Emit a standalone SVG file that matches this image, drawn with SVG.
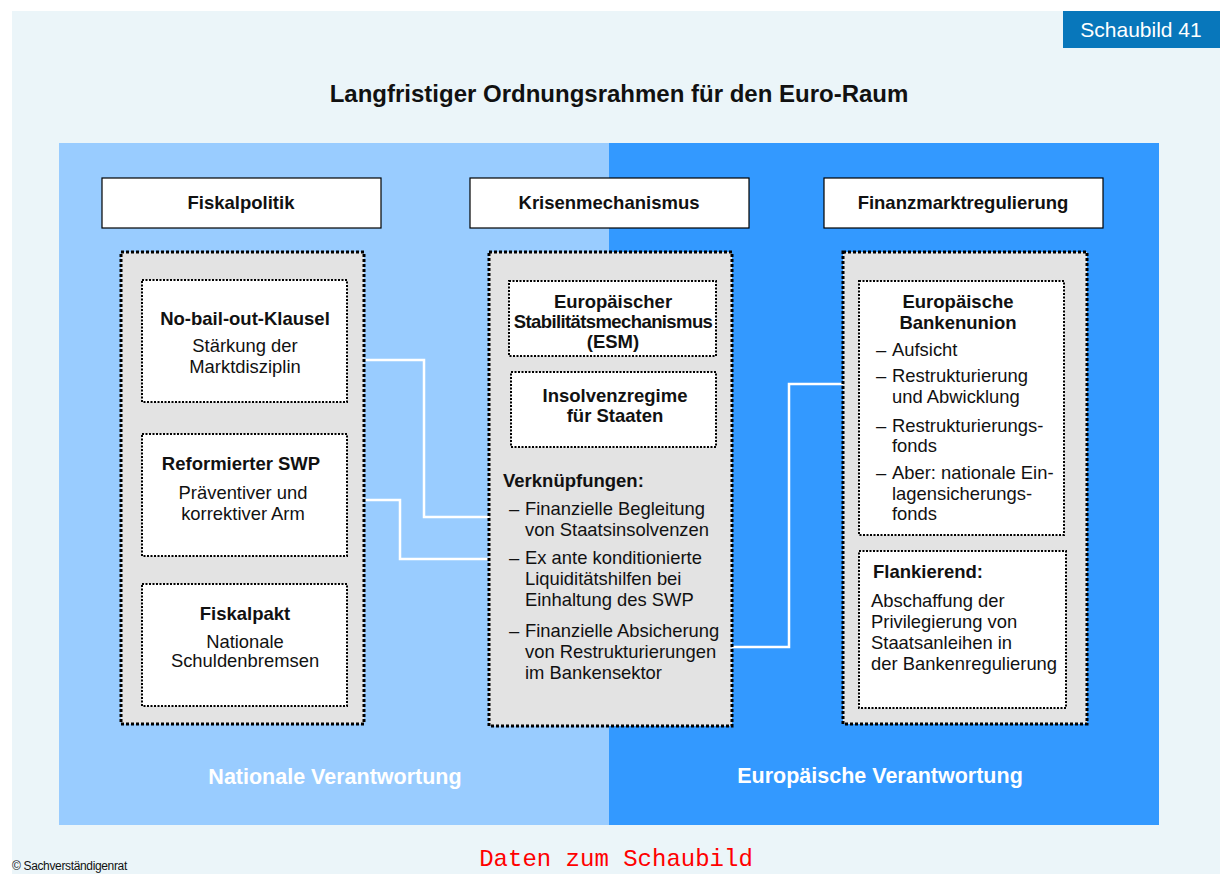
<svg xmlns="http://www.w3.org/2000/svg" width="1220" height="874" viewBox="0 0 1220 874">
<style>
text{font-family:"Liberation Sans",Arial,sans-serif;fill:#111}
.b{font-weight:bold}
.h{font-size:18.5px;font-weight:bold;text-anchor:middle}
.hb{font-size:18.5px;font-weight:bold}
.t{font-size:18.4px}
.c{text-anchor:middle}
.hdr{fill:#fff;stroke:#000;stroke-width:1.2}
.cont{fill:#e3e3e3;stroke:#000;stroke-width:3;stroke-dasharray:3 2}
.inner{fill:#fff;stroke:#000;stroke-width:2;stroke-dasharray:2 1.5}
.con{fill:none;stroke:#fff;stroke-width:2.5}
</style>
<rect x="0" y="0" width="1220" height="874" fill="#fff"/>
<rect x="12" y="11" width="1208" height="863" fill="#ebf5f9"/>
<g id="badge">
<rect x="1063" y="11" width="157" height="37" fill="#0877bb"/>
<text x="1141" y="37" font-size="21" text-anchor="middle" style="fill:#fff">Schaubild 41</text>
</g>
<text x="619" y="102" font-size="24" class="b c">Langfristiger Ordnungsrahmen für den Euro-Raum</text>
<rect x="59" y="143" width="550" height="682" fill="#99ccff"/>
<rect x="609" y="143" width="550" height="682" fill="#3399ff"/>
<text x="335" y="784" font-size="21.5" class="b c" style="fill:#fff">Nationale Verantwortung</text>
<text x="880" y="783" font-size="21.5" class="b c" style="fill:#fff">Europäische Verantwortung</text>

<g id="connectors">
<polyline class="con" points="364,360 424,360 424,517 490,517"/>
<polyline class="con" points="364,500 400,500 400,559 490,559"/>
<polyline class="con" points="732,647 789,647 789,384 843,384"/>
</g>

<g id="fiskalpolitik">
<rect class="hdr" x="102" y="178" width="279" height="50"/>
<text class="h" x="241" y="209">Fiskalpolitik</text>
</g>
<g id="krisenmechanismus">
<rect class="hdr" x="470" y="178" width="279" height="50"/>
<text class="h" x="609" y="209">Krisenmechanismus</text>
</g>
<g id="finanzmarktregulierung">
<rect class="hdr" x="824" y="178" width="279" height="50"/>
<text class="h" x="963" y="209">Finanzmarktregulierung</text>
</g>

<g id="left-container">
<rect class="cont" x="121" y="252" width="243" height="472"/>
</g>
<g id="no-bail-out">
<rect class="inner" x="142" y="280" width="205" height="122"/>
<text class="h" x="245" y="325">No-bail-out-Klausel</text>
<text class="t c" x="245" y="352">Stärkung der</text>
<text class="t c" x="245" y="373">Marktdisziplin</text>
</g>
<g id="reformierter-swp">
<rect class="inner" x="142" y="434" width="205" height="122"/>
<text class="h" x="241" y="470">Reformierter SWP</text>
<text class="t c" x="243" y="499">Präventiver und</text>
<text class="t c" x="243" y="520">korrektiver Arm</text>
</g>
<g id="fiskalpakt">
<rect class="inner" x="142" y="584" width="205" height="122"/>
<text class="h" x="245" y="620">Fiskalpakt</text>
<text class="t c" x="245" y="648">Nationale</text>
<text class="t c" x="245" y="667">Schuldenbremsen</text>
</g>

<g id="middle-container">
<rect class="cont" x="489" y="252" width="243" height="474"/>
<text class="hb" x="503" y="487">Verknüpfungen:</text>
<text class="t" x="509" y="515">–</text><text class="t" x="525" y="515">Finanzielle Begleitung</text>
<text class="t" x="525" y="536">von Staatsinsolvenzen</text>
<text class="t" x="509" y="564">–</text><text class="t" x="525" y="564">Ex ante konditionierte</text>
<text class="t" x="525" y="585">Liquiditätshilfen bei</text>
<text class="t" x="525" y="606">Einhaltung des SWP</text>
<text class="t" x="509" y="637">–</text><text class="t" x="525" y="637">Finanzielle Absicherung</text>
<text class="t" x="525" y="658">von Restrukturierungen</text>
<text class="t" x="525" y="679">im Bankensektor</text>
</g>
<g id="esm">
<rect class="inner" x="509" y="281" width="207" height="75"/>
<text class="h" x="613" y="308">Europäischer</text>
<text class="h" x="613" y="328" letter-spacing="-0.6">Stabilitätsmechanismus</text>
<text class="h" x="613" y="348">(ESM)</text>
</g>
<g id="insolvenzregime">
<rect class="inner" x="511" y="372" width="205" height="75"/>
<text class="h" x="615" y="402">Insolvenzregime</text>
<text class="h" x="615" y="422">für Staaten</text>
</g>

<g id="right-container">
<rect class="cont" x="843" y="252" width="244" height="472"/>
</g>
<g id="bankenunion">
<rect class="inner" x="859" y="281" width="205" height="254"/>
<text class="h" x="958" y="308">Europäische</text>
<text class="h" x="958" y="329">Bankenunion</text>
<text class="t" x="876" y="356">–</text><text class="t" x="892" y="356">Aufsicht</text>
<text class="t" x="876" y="382">–</text><text class="t" x="892" y="382">Restrukturierung</text>
<text class="t" x="892" y="403">und Abwicklung</text>
<text class="t" x="876" y="432">–</text><text class="t" x="892" y="432">Restrukturierungs-</text>
<text class="t" x="892" y="452">fonds</text>
<text class="t" x="876" y="479">–</text><text class="t" x="892" y="479">Aber: nationale Ein-</text>
<text class="t" x="892" y="500">lagensicherungs-</text>
<text class="t" x="892" y="520">fonds</text>
</g>
<g id="flankierend">
<rect class="inner" x="859" y="551" width="207" height="157"/>
<text class="hb" x="873" y="578">Flankierend:</text>
<text class="t" x="871" y="607">Abschaffung der</text>
<text class="t" x="871" y="628">Privilegierung von</text>
<text class="t" x="871" y="649">Staatsanleihen in</text>
<text class="t" x="871" y="670">der Bankenregulierung</text>
</g>

<text x="12" y="870" font-size="12" letter-spacing="-0.35">© Sachverständigenrat</text>
<text x="616" y="866" font-size="24" text-anchor="middle" style="font-family:'Liberation Mono','Courier New',monospace;fill:#ff0000">Daten zum Schaubild</text>
</svg>
